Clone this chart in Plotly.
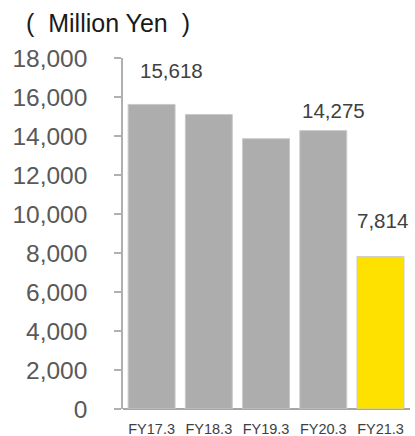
import plotly.graph_objects as go

# Net sales by fiscal year (million yen)
years = ["FY17.3", "FY18.3", "FY19.3", "FY20.3", "FY21.3"]
sales = [15618, 15100, 13860, 14275, 7814]
labeled = [True, False, False, True, True]
label_dx = [20, 0, 0, 10, 2]
label_dy = [20, 0, 0, 7, 23]
bar_colors = ["#ADADAD", "#ADADAD", "#ADADAD", "#ADADAD", "#FFE100"]
y_ticks = list(range(0, 18001, 2000))

FONT = "Liberation Sans, Arial, sans-serif"
NBSP = "\u00a0"

fig = go.Figure()
fig.add_trace(go.Bar(
    x=years, y=sales,
    marker=dict(color=bar_colors, line=dict(color="#C8C8C8", width=1)),
    width=0.82,
    hoverinfo="skip",
))

for yr, val, show, dx, dy in zip(years, sales, labeled, label_dx, label_dy):
    if show:
        fig.add_annotation(
            x=yr, y=val, text=f"{val:,}", showarrow=False,
            xshift=dx, yshift=dy, yanchor="bottom",
            font=dict(family=FONT, size=20.5, color="#404040"),
        )

fig.add_annotation(
    xref="paper", yref="paper", x=-0.345, y=1.0997,
    xanchor="left", yanchor="middle",
    text=f"({NBSP*2}Million Yen{NBSP*2})", showarrow=False,
    font=dict(family=FONT, size=25, color="#1a1a1a"),
)

fig.update_layout(
    width=415, height=436,
    margin=dict(l=123, r=5, t=58, b=27),
    paper_bgcolor="white", plot_bgcolor="white",
    showlegend=False,
    bargap=0.18,
)
fig.update_xaxes(
    automargin=False,
    showline=False, ticks="", showgrid=False,
    ticklabelstandoff=9,
    tickfont=dict(family=FONT, size=14.5, color="#404040"),
)
fig.update_yaxes(
    automargin=False,
    range=[0, 18000], tickvals=y_ticks,
    tickformat=",d",
    showgrid=False, zeroline=True, zerolinecolor="#A6A6A6", zerolinewidth=1.5,
    showline=True, linecolor="#B0B0B0", linewidth=1.5,
    ticks="outside", ticklen=7, tickcolor="#B0B0B0", tickwidth=1.5,
    ticklabelstandoff=22,
    tickfont=dict(family=FONT, size=24.5, color="#595959"),
)

fig.write_html("out.html")
